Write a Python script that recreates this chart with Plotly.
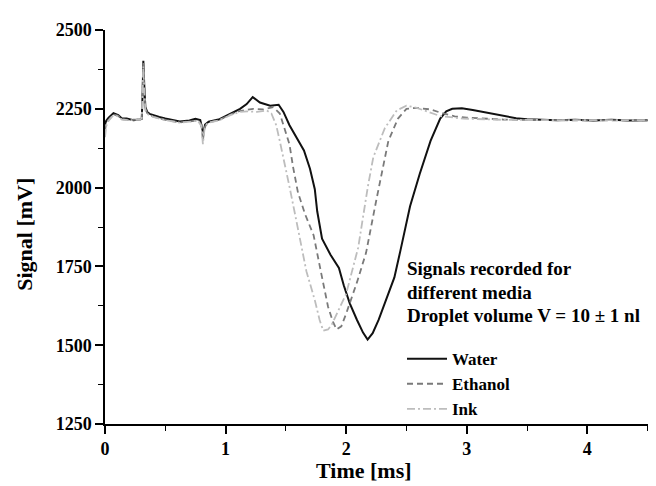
import plotly.graph_objects as go

# ---- data ----
water_t = [0.0, 0.01, 0.03, 0.07, 0.11, 0.14, 0.18, 0.235, 0.29, 0.305, 0.312, 0.318, 0.325, 0.335, 0.35, 0.37,
           0.45, 0.5, 0.62, 0.70, 0.75, 0.79, 0.805, 0.815, 0.83, 0.86, 0.95, 1.04, 1.12, 1.175, 1.225,
           1.285, 1.37, 1.44, 1.48, 1.53, 1.59, 1.65, 1.70, 1.74, 1.76, 1.80, 1.87, 1.94, 1.98, 2.03,
           2.09, 2.14, 2.178, 2.22, 2.27, 2.31, 2.34, 2.40, 2.45, 2.53, 2.61, 2.70, 2.78, 2.83, 2.88,
           2.96, 3.05, 3.19, 3.30, 3.41, 3.5, 3.61, 3.75, 3.9, 4.05, 4.2, 4.35, 4.5]
water_v = [2200, 2212, 2222, 2236, 2230, 2219, 2219, 2214, 2216, 2218, 2300, 2402, 2330, 2255, 2240, 2234,
           2224, 2219, 2210, 2213, 2218, 2214, 2190, 2172, 2200, 2209, 2217, 2235, 2250, 2265, 2287,
           2270, 2260, 2263, 2240, 2198, 2157, 2118, 2060, 1995, 1925, 1838, 1787, 1745, 1690, 1633,
           1580, 1540, 1518, 1538, 1581, 1622, 1650, 1715, 1800, 1941, 2043, 2148, 2219, 2242, 2250,
           2252, 2246, 2235, 2227, 2220, 2217, 2215, 2214, 2215, 2213, 2215, 2213, 2214]

ethanol_t = [0.0, 0.01, 0.03, 0.07, 0.11, 0.14, 0.2, 0.29, 0.305, 0.312, 0.318, 0.325, 0.335, 0.35, 0.4,
             0.5, 0.62, 0.70, 0.77, 0.80, 0.812, 0.825, 0.85, 0.95, 1.04, 1.12, 1.15, 1.23, 1.31, 1.395,
             1.45, 1.49, 1.53, 1.56, 1.60, 1.66, 1.73, 1.80, 1.85, 1.89, 1.92, 1.96, 2.0, 2.09, 2.165,
             2.25, 2.30, 2.35, 2.43, 2.50, 2.585, 2.70, 2.78, 2.90, 3.0, 3.3, 3.6, 4.0, 4.5]
ethanol_v = [2180, 2205, 2215, 2232, 2228, 2217, 2215, 2216, 2220, 2290, 2395, 2320, 2250, 2236, 2225,
             2215, 2207, 2210, 2213, 2200, 2150, 2190, 2206, 2215, 2232, 2243, 2245, 2250, 2248, 2255,
             2235, 2188, 2137, 2065, 1985, 1915, 1849, 1715, 1622, 1575, 1550, 1560, 1600, 1700, 1793,
             1960, 2050, 2148, 2219, 2250, 2253, 2248, 2238, 2226, 2222, 2216, 2214, 2213, 2213]

ink_t = [0.0, 0.01, 0.03, 0.07, 0.11, 0.14, 0.2, 0.29, 0.305, 0.312, 0.318, 0.325, 0.335, 0.35, 0.4,
         0.5, 0.62, 0.70, 0.77, 0.80, 0.812, 0.825, 0.85, 0.95, 1.04, 1.12, 1.18, 1.26, 1.34, 1.38,
         1.42, 1.45, 1.49, 1.53, 1.60, 1.67, 1.74, 1.78, 1.81, 1.85, 1.88, 1.95, 2.0, 2.10, 2.18,
         2.225, 2.32, 2.42, 2.50, 2.585, 2.78, 2.97, 3.3, 3.8, 4.5]
ink_v = [2160, 2195, 2212, 2230, 2226, 2216, 2214, 2215, 2220, 2280, 2385, 2310, 2245, 2234, 2224,
         2214, 2206, 2209, 2212, 2195, 2138, 2185, 2205, 2214, 2230, 2240, 2242, 2240, 2245, 2235,
         2198, 2147, 2080, 2003, 1870, 1735, 1643, 1580, 1546, 1550, 1565, 1620, 1663, 1810, 2003,
         2096, 2188, 2245, 2260, 2253, 2227, 2219, 2215, 2214, 2214]

series_names = ["Water", "Ethanol", "Ink"]
x_ticks = [0, 1, 2, 3, 4]
y_ticks = [1250, 1500, 1750, 2000, 2250, 2500]
note_lines = ["Signals recorded for", "different media", "Droplet volume V = 10 \u00b1 1 nl"]

FONT = "Liberation Serif"

fig = go.Figure()
fig.add_trace(go.Scatter(x=water_t, y=water_v, mode="lines", name=series_names[0],
                         line=dict(color="#111111", width=2)))
fig.add_trace(go.Scatter(x=ethanol_t, y=ethanol_v, mode="lines", name=series_names[1],
                         line=dict(color="#7a7a7a", width=1.8, dash="6px,4px")))
fig.add_trace(go.Scatter(x=ink_t, y=ink_v, mode="lines", name=series_names[2],
                         line=dict(color="#bdbdbd", width=1.8, dash="8px,3px,2px,3px")))

axis_common = dict(
    showgrid=False, zeroline=False, showline=True, linecolor="black", linewidth=1.5,
    ticks="outside", ticklen=8, tickwidth=1.5, tickcolor="black",
    tickfont=dict(family=FONT, size=18, color="black", weight="bold"),
    minor=dict(ticks="outside", ticklen=5, tickwidth=1.3, tickcolor="black"),
)

fig.update_xaxes(range=[0, 4.52], tickvals=x_ticks, ticktext=[str(v) for v in x_ticks],
                 minor_dtick=0.5, minor_tick0=0, **axis_common)
fig.update_yaxes(range=[1250, 2500], tickvals=y_ticks, ticktext=[str(v) for v in y_ticks],
                 minor_dtick=125, minor_tick0=1250, **axis_common)

# page offset (body margin) of the rendered html
OFF = 8
W, H = 656, 486
# target screen positions of the plot area: left 105, right 650, top 20, bottom 424
L = 105 - OFF
T = 20 - OFF
R = W - (650 - OFF)
B = H - (424 - OFF)
pw = W - L - R
ph = H - T - B

def px_x(px):
    return (px - OFF - L) / pw

def px_y(py):
    return (H - B - (py - OFF)) / ph

annotations = []
annotations.append(dict(text="Time [ms]", x=px_x(364), y=px_y(472), xref="paper", yref="paper",
                        showarrow=False, xanchor="center", yanchor="middle",
                        font=dict(family=FONT, size=22, color="black", weight="bold")))
annotations.append(dict(text="Signal [mV]", x=px_x(25), y=px_y(230), xref="paper", yref="paper",
                        showarrow=False, xanchor="center", yanchor="middle", textangle=-90,
                        font=dict(family=FONT, size=22, color="black", weight="bold")))
for i, line in enumerate(note_lines):
    annotations.append(dict(text=line, x=px_x(405), y=px_y(265 + 24 * i), xref="paper", yref="paper",
                            showarrow=False, xanchor="left", yanchor="middle",
                            font=dict(family=FONT, size=19, color="black", weight="bold")))

fig.update_layout(
    width=W, height=H,
    margin=dict(l=L, r=R, t=T, b=B),
    paper_bgcolor="white", plot_bgcolor="white",
    font=dict(family=FONT, color="black"),
    showlegend=True,
    legend=dict(x=px_x(402), y=px_y(339), xanchor="left", yanchor="top",
                bgcolor="rgba(0,0,0,0)", borderwidth=0,
                font=dict(family=FONT, size=17, color="black", weight="bold"),
                itemwidth=40, tracegroupgap=0),
    annotations=annotations,
)

fig.write_html("out.html")
